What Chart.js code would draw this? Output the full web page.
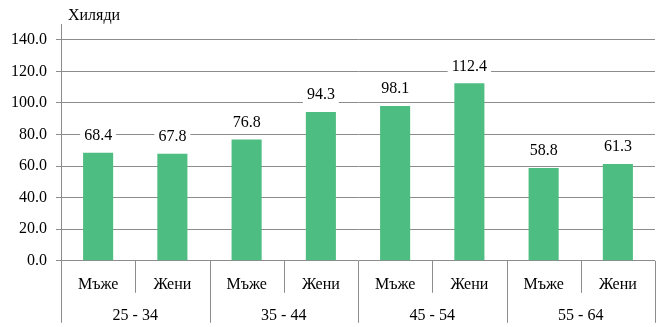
<!DOCTYPE html>
<html>
<head>
<meta charset="utf-8">
<script src="https://cdn.jsdelivr.net/npm/chart.js@4/dist/chart.umd.min.js"></script>
<style>
  html, body { margin: 0; padding: 0; background: #fff; }
  #wrap { width: 659px; height: 327px; }
</style>
</head>
<body>
<div id="wrap"><canvas id="myChart"></canvas></div>
<script>
// data
const sexes = ["Мъже", "Жени", "Мъже", "Жени", "Мъже", "Жени", "Мъже", "Жени"]
const ageGroups = ["25 - 34", "35 - 44", "45 - 54", "55 - 64"]
const values = [68.4, 67.8, 76.8, 94.3, 98.1, 112.4, 58.8, 61.3]
const unitLabel = "Хиляди"
const yTicks = [0, 20, 40, 60, 80, 100, 120, 140]

const fontFamily = "'Liberation Serif', 'Times New Roman', serif"
const gridColor = "#8c8c8c"

// value labels with white box over the gridlines
const valueLabels = {
    id: "valueLabels",
    afterDatasetsDraw(chart) {
        const ctx = chart.ctx
        const meta = chart.getDatasetMeta(0)
        ctx.save()
        ctx.font = "16px " + fontFamily
        ctx.textAlign = "center"
        ctx.textBaseline = "middle"
        meta.data.forEach((bar, i) => {
            const txt = values[i].toFixed(1)
            const w = ctx.measureText(txt).width + 8
            const y = bar.y - 17
            ctx.fillStyle = "#fff"
            ctx.fillRect(bar.x - w / 2, y - 9, w, 18)
            ctx.fillStyle = "#000"
            ctx.fillText(txt, bar.x, y)
        })
        ctx.restore()
    }
}

// separator lines under the axis, short between sexes, long between age groups
const separators = {
    id: "separators",
    afterDraw(chart) {
        const ctx = chart.ctx
        const xs = chart.scales.x
        const n = sexes.length
        const step = (xs.right - xs.left) / n
        const bottom = chart.chartArea.bottom
        ctx.save()
        ctx.strokeStyle = gridColor
        ctx.lineWidth = 1
        for (let i = 0; i <= n; i++) {
            const px = Math.round(xs.left + i * step) + 0.5
            const len = (i % 2 === 0) ? 62 : 32
            ctx.beginPath()
            ctx.moveTo(px, bottom)
            ctx.lineTo(px, bottom + len)
            ctx.stroke()
        }
        ctx.restore()
    }
}

// unit text top left, next to the y axis
const unitText = {
    id: "unitText",
    afterDraw(chart) {
        const ctx = chart.ctx
        ctx.save()
        ctx.font = "16px " + fontFamily
        ctx.fillStyle = "#000"
        ctx.textAlign = "left"
        ctx.textBaseline = "middle"
        ctx.fillText(unitLabel, chart.chartArea.left + 7, 16)
        ctx.restore()
    }
}

let ctx = document.getElementById("myChart")
let chart = new Chart(ctx, {
    type: "bar",
    data: {
        labels: sexes,
        datasets: [{
            data: values,
            backgroundColor: "#4dbd81",
            borderWidth: 0,
            barPercentage: 0.405,
            categoryPercentage: 1
        }]
    },
    options: {
        responsive: true,
        maintainAspectRatio: false,
        animation: false,
        layout: { padding: { left: 2, right: 4, top: 24, bottom: 3 } },
        plugins: {
            legend: { display: false },
            tooltip: { enabled: false }
        },
        scales: {
            x: {
                type: "category",
                position: "bottom",
                offset: true,
                grid: { display: false },
                border: { display: false },
                ticks: {
                    padding: 6,
                    color: "#000",
                    font: { family: fontFamily, size: 16 },
                    maxRotation: 0,
                    autoSkip: false
                }
            },
            groups: {
                type: "category",
                position: "bottom",
                labels: ageGroups,
                offset: true,
                grid: { display: false },
                border: { display: false },
                ticks: {
                    padding: 0,
                    color: "#000",
                    font: { family: fontFamily, size: 16, lineHeight: 1 },
                    maxRotation: 0,
                    autoSkip: false
                }
            },
            y: {
                min: 0,
                max: 150,
                afterBuildTicks(scale) {
                    scale.ticks = yTicks.map(v => ({ value: v }))
                },
                grid: {
                    color: gridColor,
                    tickLength: 5
                },
                border: { display: true, color: gridColor },
                ticks: {
                    padding: 9,
                    color: "#000",
                    font: { family: fontFamily, size: 16 },
                    callback: v => Number(v).toFixed(1)
                }
            }
        }
    },
    plugins: [valueLabels, separators, unitText]
})
</script>
</body>
</html>
